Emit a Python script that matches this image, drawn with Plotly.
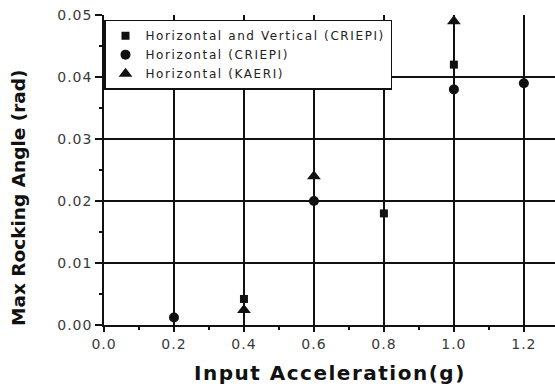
import plotly.graph_objects as go

# Data
hv_x = [0.4, 0.8, 1.0]
hv_y = [0.0042, 0.018, 0.042]
hc_x = [0.2, 0.6, 1.0, 1.2]
hc_y = [0.0012, 0.020, 0.038, 0.039]
hk_x = [0.4, 0.6, 1.0]
hk_y = [0.0024, 0.024, 0.049]

names = ["Horizontal and Vertical (CRIEPI)", "Horizontal (CRIEPI)", "Horizontal (KAERI)"]
x_ticks = [0.0, 0.2, 0.4, 0.6, 0.8, 1.0, 1.2]
y_ticks = [0.00, 0.01, 0.02, 0.03, 0.04, 0.05]


def spaced(s, px):
    return f'<span style="letter-spacing:{px}px">{s}</span>'


ink = "#111111"
fig = go.Figure()
fig.add_trace(go.Scatter(x=hv_x, y=hv_y, mode="markers", name=spaced(names[0], 1.6),
                         marker=dict(symbol="square", size=8, color=ink)))
fig.add_trace(go.Scatter(x=hc_x, y=hc_y, mode="markers", name=spaced(names[1], 1.6),
                         marker=dict(symbol="circle", size=10, color=ink)))
fig.add_trace(go.Scatter(x=hk_x, y=hk_y, mode="markers", name=spaced(names[2], 1.6),
                         marker=dict(symbol="triangle-up", size=12, color=ink)))

tickfont = dict(family="DejaVu Sans", size=14, color="#3a3a3a")
fig.update_layout(
    width=555, height=387,
    margin=dict(l=104, r=0, t=15, b=62),
    paper_bgcolor="white", plot_bgcolor="white",
    showlegend=True,
    legend=dict(x=0.0, y=0.985, xanchor="left", yanchor="top",
                bgcolor="white", bordercolor=ink, borderwidth=1.5,
                font=dict(family="DejaVu Sans", size=12, color="#222222"),
                tracegroupgap=0),
    xaxis=dict(range=[0, 1.289], tickvals=x_ticks,
               ticktext=[spaced(f"{v:.1f}", 1) for v in x_ticks],
               showgrid=True, gridcolor=ink, gridwidth=1.5,
               showline=True, linecolor=ink, linewidth=1.5,
               ticks="outside", ticklen=5, tickwidth=1.5, tickcolor=ink,
               minor=dict(dtick=0.1, tick0=0, ticks="outside", ticklen=3, tickcolor=ink, showgrid=False),
               tickfont=tickfont, zeroline=False),
    yaxis=dict(range=[0, 0.05], tickvals=y_ticks,
               ticktext=[spaced(f"{v:.2f}", 1) for v in y_ticks],
               showgrid=True, gridcolor=ink, gridwidth=1.5,
               showline=True, linecolor=ink, linewidth=1.5,
               ticks="outside", ticklen=7, tickwidth=1.5, tickcolor=ink,
               minor=dict(dtick=0.005, tick0=0, ticks="outside", ticklen=3, tickcolor=ink, showgrid=False),
               tickfont=tickfont, zeroline=False),
    annotations=[
        dict(text=spaced("Input Acceleration(g)", 1.5), x=0.5, y=0, xref="paper", yref="paper",
             xanchor="center", yanchor="middle", yshift=-48, showarrow=False,
             font=dict(family="DejaVu Sans", size=20, color="#111111", weight="bold")),
        dict(text="Max Rocking Angle (rad)", x=0, y=0.5, xref="paper", yref="paper",
             xanchor="center", yanchor="middle", xshift=-86, yshift=-28, textangle=-90,
             showarrow=False,
             font=dict(family="DejaVu Sans", size=18.5, color="#111111", weight="bold")),
    ],
)
fig.write_html("out.html")
